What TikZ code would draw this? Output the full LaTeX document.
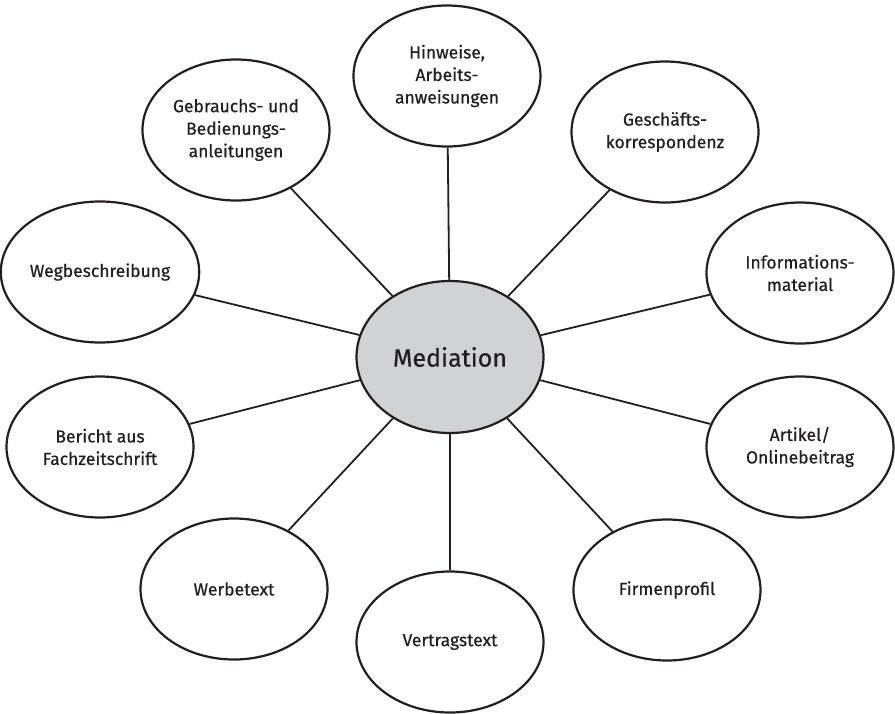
\documentclass[tikz,border=0pt]{standalone}
\usepackage{fontspec}
\setmainfont{Fira Sans}[FakeBold=0.6, AutoFakeBold=0.6]
\usetikzlibrary{shapes.geometric}
\definecolor{inkdark}{HTML}{231F20}
\definecolor{hubgray}{HTML}{D1D2D4}
\begin{document}
\begin{tikzpicture}[x=1pt, y=-1pt,
    bubble/.style={ellipse, draw=inkdark, line width=2.2pt, fill=white,
      minimum width=187pt, minimum height=141pt, inner sep=0pt,
      align=center, text=inkdark, font=\fontsize{17.5}{22.5}\selectfont},
    hub/.style={bubble, fill=hubgray, minimum height=152pt,
      font=\fontsize{25}{30}\selectfont},
    spoke/.style={draw=inkdark, line width=1.8pt}]
    % Rahmen wie im Original
    \useasboundingbox (0, 0) rectangle (895, 713);

    % Mitte
    \node[hub] (med) at (450, 357) {Mediation};

    % Themen rundherum
    \node[bubble] (hin) at (447, 76) {Hinweise,\\Arbeits-\\anweisungen};
    \node[bubble] (ges) at (665, 132) {Geschäfts-\\korrespondenz};
    \node[bubble] (inf) at (800, 273) {Informations-\\material};
    \node[bubble] (art) at (800, 447) {Artikel/\\Onlinebeitrag};
    \node[bubble] (fir) at (667, 590) {Firmenprofil};
    \node[bubble] (ver) at (450, 642) {Vertragstext};
    \node[bubble] (wer) at (234, 589) {Werbetext};
    \node[bubble] (ber) at (100, 447) {Bericht aus\\Fachzeitschrift};
    \node[bubble] (weg) at (100, 272) {Wegbeschreibung};
    \node[bubble] (geb) at (236, 130) {Gebrauchs- und\\Bedienungs-\\anleitungen};

    % Verbindungen zur Mitte
    \foreach \t in {hin, ges, inf, art, fir, ver, wer, ber, weg, geb}
        \draw[spoke] (med) -- (\t);

\end{tikzpicture}
\end{document}
